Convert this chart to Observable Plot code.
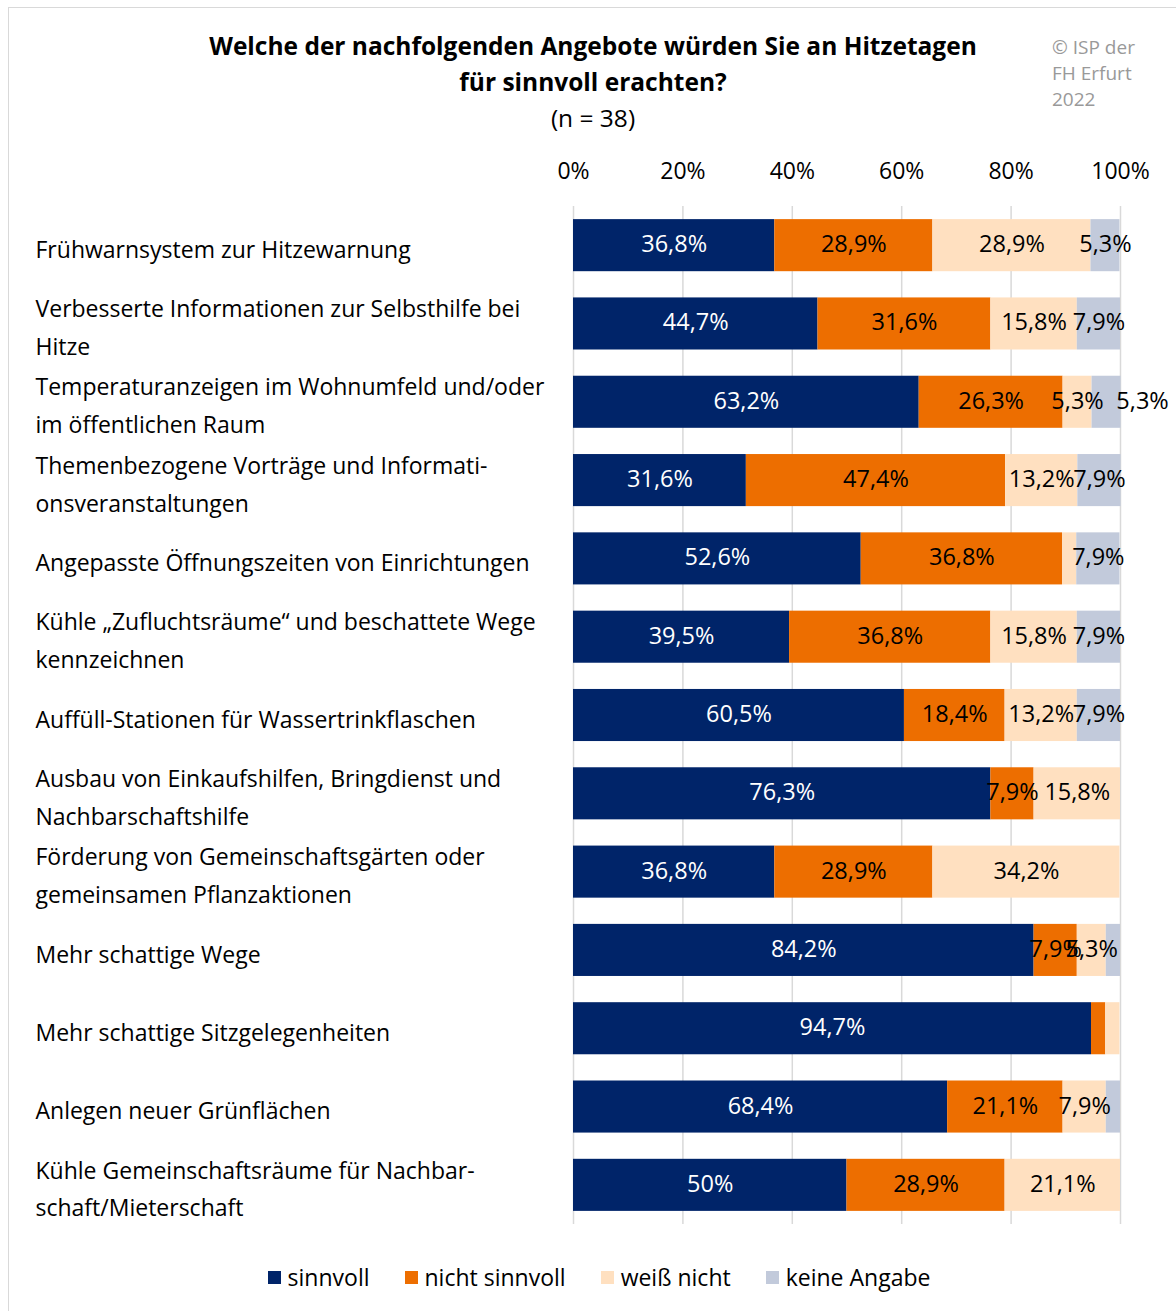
<!DOCTYPE html>
<html>
<head>
<meta charset="utf-8">
<script src="https://cdn.jsdelivr.net/npm/d3@7"></script>
<script src="https://cdn.jsdelivr.net/npm/@observablehq/plot@0.6"></script>
<style>
  html, body { margin: 0; padding: 0; background: #fff; }
  #page { position: relative; width: 1176px; height: 1311px; overflow: hidden; font-family: "Open Sans", sans-serif; color: #000; }
  #frame { position: absolute; left: 8px; top: 7px; width: 1300px; height: 1400px; border: 1px solid #d9d9d9; box-sizing: border-box; }
  #title { position: absolute; left: 93px; width: 1000px; top: 28px; text-align: center; font-size: 24.5px; line-height: 36px; }
  #title b { font-weight: 700; }
  #copy { position: absolute; left: 1052px; top: 34px; font-size: 19px; line-height: 26px; color: #999; }
  #chart { position: absolute; left: 0; top: 140px; }
  #legend { position: absolute; left: 0; width: 1198px; top: 1261px; display: flex; justify-content: center; font-size: 23px; line-height: 32px; }
  .item { display: flex; align-items: center; margin: 0 17.5px; }
  .sw { width: 13px; height: 13px; margin-right: 7px; }
</style>
</head>
<body>
<div id="page">
  <div id="frame"></div>
  <div id="title"><b>Welche der nachfolgenden Angebote würden Sie an Hitzetagen<br>für sinnvoll erachten?</b><br>(n = 38)</div>
  <div id="copy">© ISP der<br>FH Erfurt<br>2022</div>
  <div id="chart"></div>
  <div id="legend"></div>
</div>
<script>
const categories = [
  "Frühwarnsystem zur Hitzewarnung",
  "Verbesserte Informationen zur Selbsthilfe bei\nHitze",
  "Temperaturanzeigen im Wohnumfeld und/oder\nim öffentlichen Raum",
  "Themenbezogene Vorträge und Informati-\nonsveranstaltungen",
  "Angepasste Öffnungszeiten von Einrichtungen",
  "Kühle „Zufluchtsräume“ und beschattete Wege\nkennzeichnen",
  "Auffüll-Stationen für Wassertrinkflaschen",
  "Ausbau von Einkaufshilfen, Bringdienst und\nNachbarschaftshilfe",
  "Förderung von Gemeinschaftsgärten oder\ngemeinsamen Pflanzaktionen",
  "Mehr schattige Wege",
  "Mehr schattige Sitzgelegenheiten",
  "Anlegen neuer Grünflächen",
  "Kühle Gemeinschaftsräume für Nachbar-\nschaft/Mieterschaft"
];
const seriesNames = ["sinnvoll", "nicht sinnvoll", "weiß nicht", "keine Angabe"];
const seriesColors = ["#002469", "#ED6E00", "#FFE0C0", "#C2CADB"];
const sinnvoll      = [36.8, 44.7, 63.2, 31.6, 52.6, 39.5, 60.5, 76.3, 36.8, 84.2, 94.7, 68.4, 50];
const nichtSinnvoll = [28.9, 31.6, 26.3, 47.4, 36.8, 36.8, 18.4, 7.9, 28.9, 7.9, 2.6, 21.1, 28.9];
const weissNicht    = [28.9, 15.8, 5.3, 13.2, 2.6, 15.8, 13.2, 15.8, 34.2, 5.3, 2.6, 7.9, 21.1];
const keineAngabe   = [5.3, 7.9, 5.3, 7.9, 7.9, 7.9, 7.9, 0, 0, 2.6, 0, 2.6, 0];
const xTicks = [0, 20, 40, 60, 80, 100];

const seriesValues = [sinnvoll, nichtSinnvoll, weissNicht, keineAngabe];
const data = [];
categories.forEach((c, i) => {
  seriesNames.forEach((s, j) => {
    data.push({cat: c, row: i, series: s, value: seriesValues[j][i]});
  });
});
const fmt = v => String(v).replace(".", ",") + "%";
const labelled = d => d.value > 3;
// the one label that the reference moves out to the right of its bar
const isShifted = d => d.row === 2 && d.series === "keine Angabe";

const chart = Plot.plot({
  width: 1176,
  height: 1100,
  marginTop: 66,
  marginBottom: 16,
  marginLeft: 573,
  marginRight: 56,
  style: {fontFamily: "Open Sans, sans-serif", fontSize: "21px", color: "#000", background: "transparent"},
  x: {domain: [0, 100], axis: null},
  y: {domain: categories, paddingInner: 0.335, paddingOuter: 0.1675, round: false, axis: null},
  color: {domain: seriesNames, range: seriesColors},
  marks: [
    Plot.gridX(xTicks, {stroke: "#d9d9d9", strokeOpacity: 1, strokeWidth: 1.5}),
    Plot.barX(data, {x: "value", y: "cat", fill: "series", order: seriesNames}),
    Plot.text(data, Plot.stackX({
      x: "value", y: "cat", z: "series", order: seriesNames,
      text: d => (labelled(d) && d.series === "sinnvoll") ? fmt(d.value) : null,
      fill: "white", fontSize: 23.5, dy: -1
    })),
    Plot.text(data, Plot.stackX({
      x: "value", y: "cat", z: "series", order: seriesNames,
      text: d => (labelled(d) && d.series !== "sinnvoll" && !isShifted(d)) ? fmt(d.value) : null,
      fill: "black", fontSize: 23.5, dy: -1
    })),
    Plot.text(data, Plot.stackX({
      x: "value", y: "cat", z: "series", order: seriesNames,
      text: d => (labelled(d) && isShifted(d)) ? fmt(d.value) : null,
      fill: "black", fontSize: 23.5, dy: -1, dx: 36
    })),
    Plot.axisX(xTicks, {anchor: "top", tickSize: 0, tickPadding: 28, tickFormat: d => d + "%", fontSize: 23, label: null}),
    Plot.axisY({tickSize: 0, tickPadding: 0, textAnchor: "start", dx: -538, dy: 0, fontSize: 23, lineHeight: 1.65, label: null})
  ]
});
document.getElementById("chart").appendChild(chart);

const legend = document.getElementById("legend");
seriesNames.forEach((s, j) => {
  const it = document.createElement("div");
  it.className = "item";
  const sw = document.createElement("span");
  sw.className = "sw";
  sw.style.background = seriesColors[j];
  const t = document.createElement("span");
  t.textContent = s;
  it.appendChild(sw); it.appendChild(t);
  legend.appendChild(it);
});
</script>
</body>
</html>
